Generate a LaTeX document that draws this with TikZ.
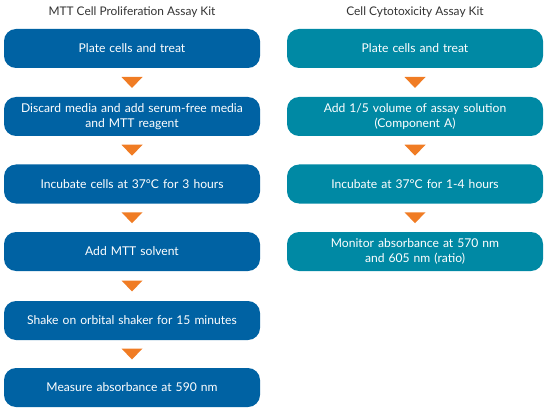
\documentclass[tikz,border=0pt]{standalone}
\usepackage{fontspec}
\setmainfont{Lato}
\definecolor{mttblue}{HTML}{0062A3}
\definecolor{cyteal}{HTML}{0089A4}
\definecolor{arroworange}{HTML}{F07C24}
\definecolor{titlegray}{HTML}{333333}
\begin{document}
\begin{tikzpicture}[x=1pt,y=-1pt,
  stepbox/.style={rounded corners=12pt, minimum width=256pt, minimum height=39pt,
    text width=246pt, align=center, inner sep=0pt, text=white,
    font=\fontsize{12.1}{15.5}\selectfont},
  leftbox/.style={stepbox, fill=mttblue},
  rightbox/.style={stepbox, fill=cyteal},
  kittitle/.style={text=titlegray, font=\fontsize{11.9}{14}\selectfont, inner sep=0pt},
  tri/.style={fill=arroworange}
]
\useasboundingbox (0,0) rectangle (548,414);
% titles
\node[kittitle] (tl) at (132,12) {MTT Cell Proliferation Assay Kit};
\node[kittitle] (tr) at (415,12) {Cell Cytotoxicity Assay Kit};
% left column
\node[leftbox] (l1) at (132,48.5) {Plate cells and treat};
\node[leftbox] (l2) at (132,116.5) {Discard media and add serum-free media\\and MTT reagent};
\node[leftbox] (l3) at (132,184) {Incubate cells at 37°C for 3 hours};
\node[leftbox] (l4) at (132,251.5) {Add MTT solvent};
\node[leftbox] (l5) at (132,320.5) {Shake on orbital shaker for 15 minutes};
\node[leftbox] (l6) at (132,387.5) {Measure absorbance at 590 nm};
% right column
\node[rightbox] (r1) at (415,48.5) {Plate cells and treat};
\node[rightbox] (r2) at (415,116.5) {Add 1/5 volume of assay solution\\(Component A)};
\node[rightbox] (r3) at (415,184) {Incubate at 37°C for 1-4 hours};
\node[rightbox] (r4) at (415,251.5) {Monitor absorbance at 570 nm\\and 605 nm (ratio)};
% arrows
\foreach \a/\b in {l1/l2,l2/l3,l3/l4,l4/l5,l5/l6,r1/r2,r2/r3,r3/r4}{
  \path (\a.south) -- (\b.north) coordinate[pos=0.5] (m\a);
  \fill[tri] ([shift={(-10.5,-5.5)}]m\a) -- ([shift={(10.5,-5.5)}]m\a) -- ([shift={(0,5.5)}]m\a) -- cycle;
}
\end{tikzpicture}
\end{document}
